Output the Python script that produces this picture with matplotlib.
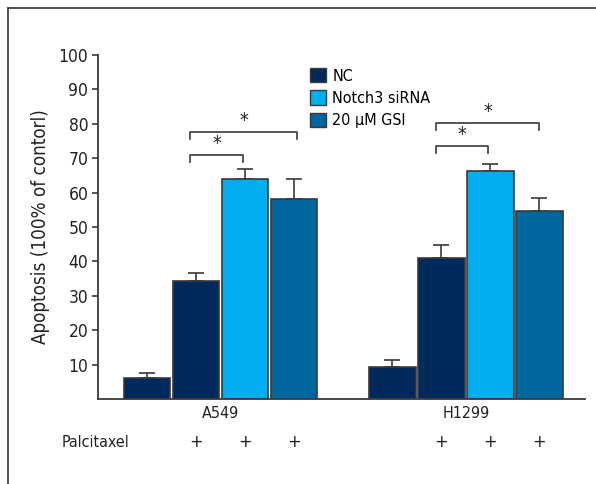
import numpy as np
import matplotlib
matplotlib.use("Agg")
import matplotlib.pyplot as plt
from matplotlib.lines import Line2D
from matplotlib.patches import Patch

# narrow face, close to the original's condensed font
plt.rcParams['font.family'] = ['DejaVu Sans']
plt.rcParams['font.stretch'] = 'condensed'

# data
groups = ['A549', 'H1299']
series = ['NC', 'Notch3 siRNA', '20 \u03bcM GSI']
colors = ['#002a5c', '#00aeef', '#00679e']
# per group: NC (no paclitaxel), NC + pac, Notch3 + pac, GSI + pac
a549_vals = [6.0, 34.4, 63.9, 58.2]
a549_err = [1.5, 2.2, 2.9, 5.8]
h1299_vals = [9.2, 40.9, 66.4, 54.7]
h1299_err = [2.1, 3.9, 1.9, 3.8]
bar_series = [0, 0, 1, 2]
paclitaxel = ['', '+', '+', '+']
yticks = [10, 20, 30, 40, 50, 60, 70, 80, 90, 100]

fig = plt.figure(figsize=(5.96, 4.84), dpi=100)
ax = fig.add_axes([98/596, 85/484, 487/596, 344/484])

edge = '#3a3a3a'
for g, (vals, errs) in enumerate([(a549_vals, a549_err), (h1299_vals, h1299_err)]):
    x = np.arange(4) + g*5
    ax.bar(x, vals, width=0.95, color=[colors[s] for s in bar_series],
           edgecolor=edge, linewidth=1.2, zorder=2)
    ax.errorbar(x, vals, yerr=[np.zeros(4), errs], fmt='none', ecolor=edge,
                elinewidth=1.2, capsize=6, capthick=1.2, zorder=1)
    # group label and paclitaxel row
    ax.text(x.mean(), -4.2, groups[g], ha='center', va='center', fontsize=11.5,
            color='#222222')
    for xi, p in zip(x, paclitaxel):
        ax.text(xi, -12.6, p, ha='center', va='center', fontsize=13, color='#222222')

ax.text(-0.37, -12.6, 'Palcitaxel', ha='right', va='center', fontsize=11.5,
        color='#222222')

# significance brackets
def bracket(x1, x2, y, h=2.0):
    ax.plot([x1, x1, x2, x2], [y - h, y, y, y - h], color=edge, lw=1.2,
            clip_on=False)
    ax.text((x1 + x2)/2, y + 0.6, '*', ha='center', va='bottom', fontsize=14,
            color='#222222')

bracket(0.88, 1.95, 71.0)
bracket(0.88, 3.05, 77.5)
bracket(5.9, 6.95, 73.5)
bracket(5.9, 8.0, 80.3)

ax.set_xlim(-1.0, 8.93)
ax.set_ylim(0, 100)
ax.set_yticks(yticks)
ax.set_xticks([])
ax.tick_params(axis='y', direction='out', length=4, width=1.2, color=edge,
               labelsize=12.5, labelcolor='#222222', pad=3)
for s in ['top', 'right']:
    ax.spines[s].set_visible(False)
for s in ['left', 'bottom']:
    ax.spines[s].set_color(edge)
    ax.spines[s].set_linewidth(1.3)
ax.set_ylabel('Apoptosis (100% of contorl)', fontsize=13.5, color='#222222',
              labelpad=6)

handles = [Patch(facecolor=c, edgecolor=edge, linewidth=1.0) for c in colors]
fig.legend(handles, series, loc='upper left', bbox_to_anchor=(302/596, 1 - 60/484),
           frameon=False, fontsize=11.5, handlelength=1.0, handleheight=1.0,
           handletextpad=0.4, labelspacing=0.42, borderpad=0)

# outer frame (top and left only)
fig.add_artist(Line2D([8/596, 1], [1 - 8/484, 1 - 8/484], color='#333333', lw=1.2))
fig.add_artist(Line2D([8/596, 8/596], [0, 1 - 8/484], color='#333333', lw=1.2))

fig.savefig('out.png', dpi=100)
